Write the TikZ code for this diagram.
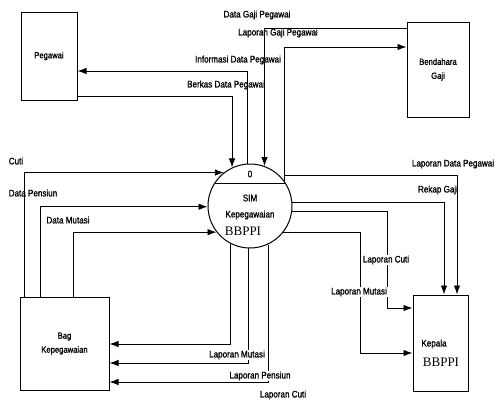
\documentclass[tikz,border=0pt]{standalone}
\usepackage{fontspec}
\newfontfamily\dfdfont[FakeStretch=0.85,FakeBold=1.2]{Liberation Sans}
\newfontfamily\bbfont{Liberation Serif}
\usetikzlibrary{arrows.meta}

\begin{document}
\begin{tikzpicture}[x=1pt,y=-1pt,
  box/.style={draw,line width=1pt,inner sep=0pt,align=center,font=\dfdfont\fontsize{9}{10}\selectfont},
  flow/.style={line width=0.9pt,-{Latex[length=9pt,width=6.5pt]}},
  lbl/.style={inner sep=1pt,font=\dfdfont\fontsize{9.5}{11}\selectfont},
  lblw/.style={lbl,fill=white},
  big/.style={inner sep=0pt,font=\bbfont\fontsize{13}{14}\selectfont}]
\useasboundingbox (0,0) rectangle (500,402);

% entitas luar
\node[box,minimum width=56,minimum height=88] (peg) at (49,56) {Pegawai};
\node[box,minimum width=62,minimum height=95] (bend) at (438,69.5) {Bendahara\\[4pt]Gaji};
\node[box,minimum width=89,minimum height=93] (bag) at (64.5,343.5) {Bag\\[4pt]Kepegawaian};
\node[box,minimum width=55,minimum height=96] (kep) at (440.5,343) {};
\node[lbl] at (434,344) {Kepala};
\node[big] at (441,362) {BBPPI};

% proses
\node[draw,circle,line width=1pt,minimum size=84,inner sep=0pt] (sim) at (250,206) {};
\draw[line width=0.9pt] (sim.148) -- (sim.32);
\node[lbl] at (250,174) {0};
\node[lbl] at (250,198) {SIM};
\node[lbl] at (250,215) {Kepegawaian};
\node[big] at (243,231) {BBPPI};

% aliran atas
\draw[flow] (bend.west |- 0,28) -| (sim.70);
\draw[flow] (sim.36) |- (bend.west |- 0,47);
\draw[flow] (sim.93) |- (peg.east |- 0,71);
\draw[flow] (peg.east |- 0,96) -| (sim.115);
\node[lbl] at (257,15) {Data Gaji Pegawai};
\node[lbl] at (278,33) {Laporan Gaji Pegawai};
\node[lbl] at (238,60) {Informasi Data Pegawai};
\node[lbl] at (226,85) {Berkas Data Pegawai};

% aliran kiri
\draw[flow] (bag.north -| 24,0) |- (sim.128);
\draw[flow] (bag.north -| 40,0) |- (sim.181);
\draw[flow] (bag.north -| 73,0) |- (sim.218);
\node[lbl] at (16,161) {Cuti};
\node[lbl] at (33,193) {Data Pensiun};
\node[lbl] at (68,220) {Data Mutasi};

% aliran bawah
\draw[flow] (sim.242) |- (bag.east |- 0,344);
\draw[flow] (sim.268) |- (bag.east |- 0,363);
\draw[flow] (sim.295) |- (bag.east |- 0,382);
\node[lblw] at (237,355) {Laporan Mutasi};
\node[lblw] at (260,376) {Laporan Pensiun};
\node[lbl] at (283,395) {Laporan Cuti};

% aliran kanan
\draw[flow] (sim.36) -- ++(0,-6) -| (kep.north -| 457,0);
\draw[flow] (sim.5) -| (kep.north -| 444,0);
\draw[flow] (sim.352) -| (387,308) -- (kep.west |- 0,308);
\draw[flow] (sim.322) -| (360,353) -- (kep.west |- 0,353);
\node[lbl] at (453,164) {Laporan Data Pegawai};
\node[lbl] at (438,190) {Rekap Gaji};
\node[lblw] at (386,260) {Laporan Cuti};
\node[lblw] at (359,292) {Laporan Mutasi};
\end{tikzpicture}
\end{document}
